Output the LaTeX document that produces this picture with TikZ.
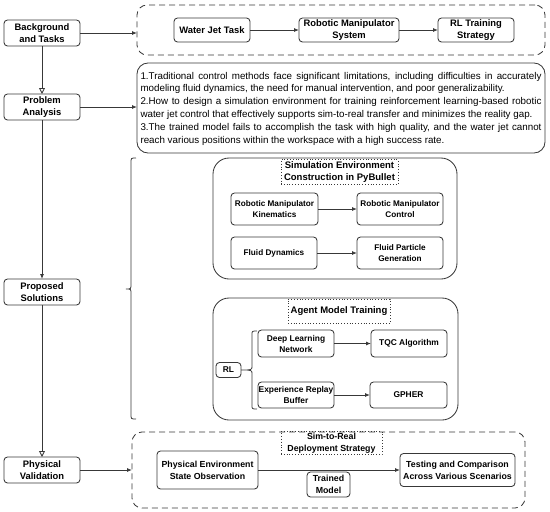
\documentclass[tikz,border=0pt]{standalone}
\usepackage{fontspec}
\setmainfont{Liberation Sans}
\usetikzlibrary{arrows.meta}
\definecolor{ln}{HTML}{383838}
\tikzset{
  every node/.style={inner sep=0pt, outer sep=0pt},
  box/.style={draw=ln, line width=0.85pt, rounded corners=3.5pt, align=center,
    font=\fontsize{9.4}{12}\selectfont\bfseries},
  simbox/.style={box, font=\fontsize{8.2}{11}\selectfont\bfseries},
  agbox/.style={box, font=\fontsize{8.4}{11}\selectfont\bfseries},
  botbox/.style={box, font=\fontsize{8.8}{12}\selectfont\bfseries},
  ttl/.style={draw=ln, line width=0.8pt, dotted, align=center,
    font=\fontsize{9.5}{12}\selectfont\bfseries},
  dcont/.style={draw=ln, line width=0.85pt, dash pattern=on 6pt off 4pt, rounded corners=10pt},
  scont/.style={draw=ln, line width=0.85pt, rounded corners=16pt},
  arr/.style={draw=ln, line width=0.85pt, -{Latex[length=5pt,width=4pt]}},
  oarr/.style={draw=ln, line width=0.85pt, -{Triangle[open,length=6pt,width=6pt]}},
  brc/.style={draw=ln, line width=0.8pt}
}
\begin{document}
\begin{tikzpicture}[x=1pt,y=-1pt]
\useasboundingbox (0,0) rectangle (550,512);
% left column
\node[box, minimum width=76, minimum height=26] (bg) at (42,33) {Background\\and Tasks};
\node[box, minimum width=76, minimum height=26] (pa) at (42,107) {Problem\\Analysis};
\node[box, minimum width=76, minimum height=26] (ps) at (42,292) {Proposed\\Solutions};
\node[box, minimum width=76, minimum height=26] (pv) at (42,470) {Physical\\Validation};
% top container
\node[dcont, minimum width=408, minimum height=50] (top) at (341,30) {};
\node[box, minimum width=76, minimum height=24] (wj) at (212,30) {Water Jet Task};
\node[box, minimum width=100, minimum height=24] (rms) at (349,30) {Robotic Manipulator\\System};
\node[box, minimum width=76, minimum height=24] (rlt) at (476,30) {RL Training\\Strategy};
% problem text
\node[draw=ln, line width=0.85pt, rounded corners=11pt, minimum width=408, minimum height=90] (pt) at (341,108) {};
\node[text width=401, align=justify, font=\fontsize{9.8}{12.8}\selectfont] (ptx) at (341,108.5) {1.Traditional control methods face significant limitations, including difficulties in accurately modeling fluid dynamics, the need for manual intervention, and poor generalizability.\\2.How to design a simulation environment for training reinforcement learning-based robotic water jet control that effectively supports sim-to-real transfer and minimizes the reality gap.\\3.The trained model fails to accomplish the task with high quality, and the water jet cannot reach various positions within the workspace with a high success rate.};
% simulation container
\node[scont, minimum width=244, minimum height=121] (sim) at (335,218.5) {};
\node[ttl, minimum width=117, minimum height=25] (simt) at (339.5,172) {Simulation Environment\\Construction in PyBullet};
\node[simbox, minimum width=87, minimum height=32] (kin) at (274.5,209) {Robotic Manipulator\\Kinematics};
\node[simbox, minimum width=86, minimum height=32] (ctl) at (400,209) {Robotic Manipulator\\Control};
\node[simbox, minimum width=86, minimum height=32] (fd) at (274,253) {Fluid Dynamics};
\node[simbox, minimum width=86, minimum height=32] (fpg) at (400,253) {Fluid Particle\\Generation};
% agent container
\node[scont, minimum width=245, minimum height=122] (ag) at (335.5,359) {};
\node[ttl, minimum width=102, minimum height=24] (agt) at (339,311) {Agent Model Training};
\node[agbox, minimum width=76, minimum height=27] (dln) at (296,343.5) {Deep Learning\\Network};
\node[agbox, minimum width=76, minimum height=27] (tqc) at (409,343.5) {TQC Algorithm};
\node[agbox, minimum width=76, minimum height=26] (erb) at (296,395) {Experience Replay\\Buffer};
\node[agbox, minimum width=77, minimum height=26] (gph) at (408.5,395) {GPHER};
\node[agbox, minimum width=25, minimum height=15] (rl) at (228.5,370) {RL};
% bottom container
\node[dcont, minimum width=393, minimum height=76] (bot) at (328.5,470) {};
\node[ttl, font=\fontsize{8.8}{11.5}\selectfont\bfseries, minimum width=101, minimum height=23] (s2r) at (331.5,443) {Sim-to-Real\\Deployment Strategy};
\node[botbox, minimum width=101, minimum height=38] (pes) at (207.5,470) {Physical Environment\\State Observation};
\node[botbox, minimum width=115, minimum height=33] (tst) at (457.5,470) {Testing and Comparison\\Across Various Scenarios};
\node[botbox, minimum width=43, minimum height=25] (tm) at (328.5,484.5) {Trained\\Model};
% connectors
\draw[oarr] (bg.south) -- (pa.north);
\draw[arr] (pa.south) -- (ps.north);
\draw[oarr] (ps.south) -- (pv.north);
\draw[arr] (bg.east) -- (bg.east -| top.west);
\draw[arr] (pa.east) -- (pa.east -| pt.west);
\draw[arr] (pv.east) -- (pv.east -| bot.west);
\draw[arr] (wj.east) -- (rms.west);
\draw[arr] (rms.east) -- (rlt.west);
\draw[arr] (kin.east) -- (ctl.west);
\draw[arr] (fd.east) -- (fpg.west);
\draw[arr] (dln.east) -- (dln.east -| tqc.west);
\draw[arr] (erb.east) -- (erb.east -| gph.west);
\draw[arr] (pes.east) -- (pes.east -| tst.west);
% braces
\coordinate (bgtip) at (126,289);
\draw[brc] (136,158) .. controls (131,158) .. (131,163) -- (131,284) .. controls (131,289) .. (bgtip) .. controls (131,289) .. (131,294) -- (131,414) .. controls (131,419) .. (136,419);
\coordinate (smtip) at (rl.east);
\draw[brc] (257,331) .. controls (252,331) .. (252,335) -- (252,366) .. controls (252,370) .. (smtip) .. controls (252,370) .. (252,374) -- (252,405) .. controls (252,409) .. (257,409);
\end{tikzpicture}
\end{document}
